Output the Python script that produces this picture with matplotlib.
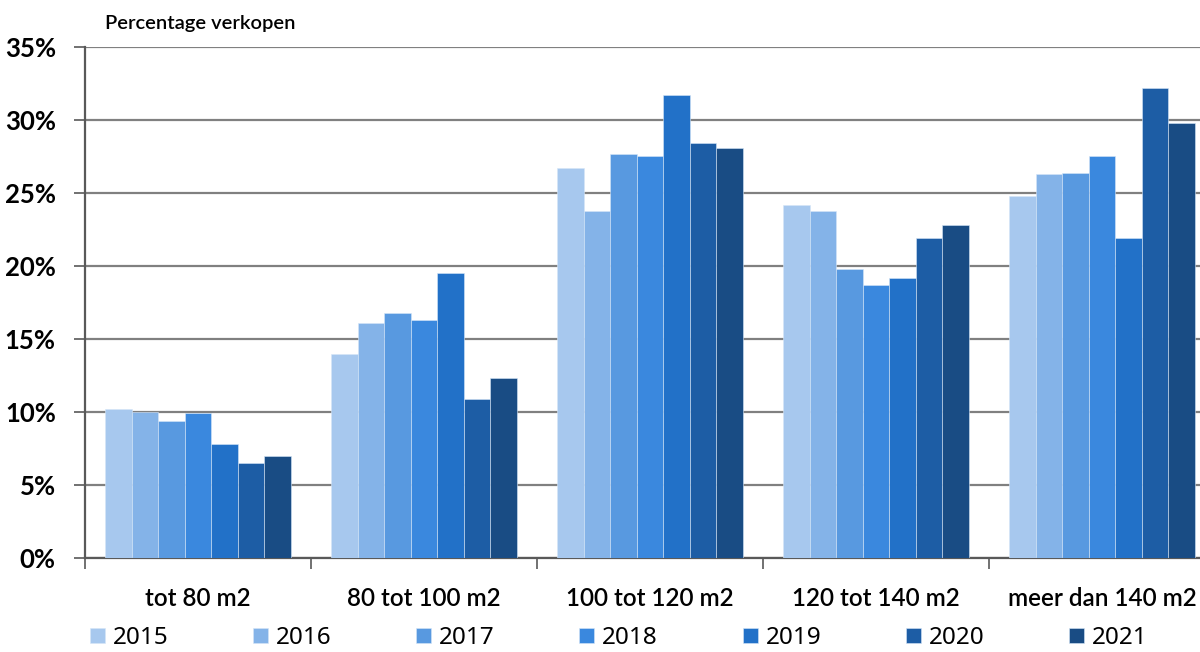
import matplotlib
matplotlib.use("Agg")
import matplotlib.pyplot as plt
import numpy as np
from matplotlib.ticker import FuncFormatter, FixedLocator

categories = ["tot 80 m2", "80 tot 100 m2", "100 tot 120 m2", "120 tot 140 m2", "meer dan 140 m2"]
years = ["2015", "2016", "2017", "2018", "2019", "2020", "2021"]

v2015 = [10.2, 14.0, 26.7, 24.2, 24.8]
v2016 = [10.0, 16.1, 23.8, 23.8, 26.3]
v2017 = [9.4, 16.8, 27.7, 19.8, 26.4]
v2018 = [9.9, 16.3, 27.5, 18.7, 27.5]
v2019 = [7.8, 19.5, 31.7, 19.2, 21.9]
v2020 = [6.5, 10.9, 28.4, 21.9, 32.2]
v2021 = [7.0, 12.3, 28.1, 22.8, 29.8]
series = [v2015, v2016, v2017, v2018, v2019, v2020, v2021]

colors = ["#A7C8EE", "#84B3E8", "#5899E0", "#3A88DE", "#2271C8", "#1D5DA5", "#194C84"]

ylabel_text = "Percentage verkopen"

plt.rcParams["font.family"] = ["Lato", "DejaVu Sans"]

fig = plt.figure(figsize=(12, 6.52), dpi=100)
ax = fig.add_axes([85 / 1200, 1 - 558 / 652, 1130 / 1200, 511 / 652])

x = np.arange(len(categories))
bw = 0.117
for j, (vals, col) in enumerate(zip(series, colors)):
    ax.bar(x + (j - 3) * bw, vals, width=bw, color=col, edgecolor="#D6E6F7",
           linewidth=0.4, label=years[j], zorder=3)

ax.set_xlim(-0.5, len(categories) - 0.5)
ax.set_ylim(0, 35)
ax.set_yticks(np.arange(0, 36, 5))
ax.yaxis.set_major_formatter(FuncFormatter(lambda v, p: f"{int(v)}%"))
ax.grid(axis="y", color="#808080", linewidth=1.6, zorder=0)
ax.set_axisbelow(True)

# category boundaries as major ticks, names on minor ticks
ax.xaxis.set_major_locator(FixedLocator(np.arange(-0.5, len(categories), 1.0)))
ax.xaxis.set_major_formatter(FuncFormatter(lambda v, p: ""))
ax.xaxis.set_minor_locator(FixedLocator(x))
ax.set_xticklabels(categories, minor=True)
ax.tick_params(axis="x", which="major", length=8, width=1.2, color="#595959", direction="out")
ax.tick_params(axis="x", which="minor", length=0, pad=21, labelsize=17.5)
ax.tick_params(axis="y", length=8, width=1.2, color="#595959", pad=13, labelsize=18.5)
for lab in ax.get_yticklabels():
    lab.set_fontweight("bold")
for lab in ax.get_xticklabels(minor=True):
    lab.set_fontweight("semibold")

for side in ["top", "right"]:
    ax.spines[side].set_visible(False)
for side in ["left", "bottom"]:
    ax.spines[side].set_color("#595959")
    ax.spines[side].set_linewidth(1.6)

fig.text(105 / 1200, 1 - 23 / 652, ylabel_text, fontsize=14.5, fontweight="semibold",
         va="center", ha="left")

fig.legend(loc="center left", bbox_to_anchor=(90 / 1200, 1 - 638 / 652), ncol=7,
           frameon=False, prop={"family": "Noto Sans", "size": 17.5},
           handlelength=0.62, handleheight=0.62, handletextpad=0.32,
           columnspacing=3.48, borderaxespad=0, borderpad=0)

fig.savefig("out.png", dpi=100)
